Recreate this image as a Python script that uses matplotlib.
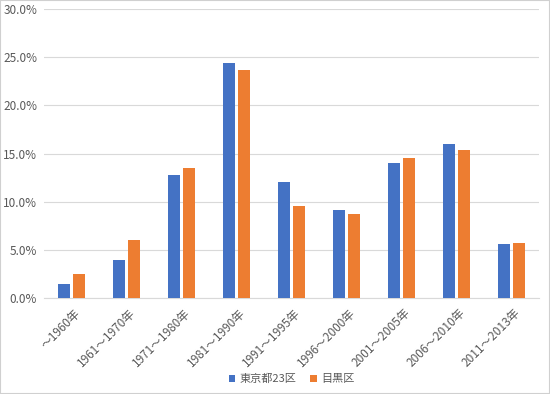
import matplotlib.pyplot as plt
import numpy as np
from matplotlib.ticker import PercentFormatter

plt.rcParams['font.family'] = ['Noto Sans CJK JP', 'DejaVu Sans']

categories = ['〜1960年', '1961〜1970年', '1971〜1980年', '1981〜1990年', '1991〜1995年',
              '1996〜2000年', '2001〜2005年', '2006〜2010年', '2011〜2013年']
tokyo23 = [1.5, 4.0, 12.8, 24.4, 12.1, 9.2, 14.0, 16.0, 5.6]
meguro = [2.5, 6.0, 13.5, 23.7, 9.6, 8.7, 14.5, 15.4, 5.7]
series_names = ['東京都23区', '目黒区']

fig = plt.figure(figsize=(5.5, 3.94), dpi=100)
ax = fig.add_axes([0.08, 0.243, 0.9, 0.734])

x = np.arange(len(categories))
w = 0.22
ax.bar(x - w / 2 - 0.03, tokyo23, w, color='#4472C4', label=series_names[0], zorder=3)
ax.bar(x + w / 2 + 0.03, meguro, w, color='#ED7D31', label=series_names[1], zorder=3)

ax.set_ylim(0, 30)
ax.set_xlim(-0.5, len(categories) - 0.5)
ax.set_yticks(np.arange(0, 31, 5))
ax.yaxis.set_major_formatter(PercentFormatter(decimals=1))
ax.grid(axis='y', color='#d9d9d9', linewidth=0.8, zorder=0)
for s in ['top', 'right', 'left']:
    ax.spines[s].set_visible(False)
ax.spines['bottom'].set_color('#d9d9d9')
ax.tick_params(axis='both', length=0, colors='#595959', labelsize=8.5)
ax.tick_params(axis='y', pad=5)
ax.tick_params(axis='x', pad=6)
ax.set_xticks(x + 0.04)
ax.set_xticklabels(categories, rotation=45, ha='right', rotation_mode='anchor')

fig.legend(loc='lower center', bbox_to_anchor=(0.53, 0.0), ncol=2, frameon=False,
           fontsize=8, handlelength=0.6, handleheight=0.6, labelcolor='#595959',
           columnspacing=1.2, handletextpad=0.4)

fig.patches.append(plt.Rectangle((0, 0), 1, 1, transform=fig.transFigure, fill=False,
                                 edgecolor='#d0d0d0', linewidth=1.5))
fig.savefig('out.png', dpi=100)
